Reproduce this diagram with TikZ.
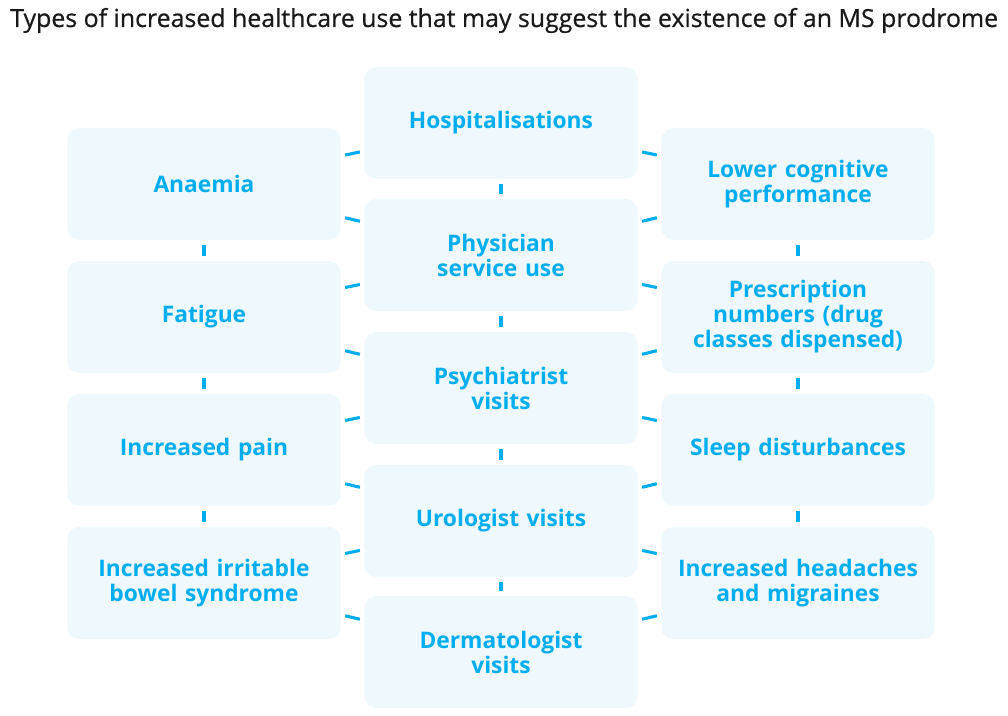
\documentclass[tikz,border=0pt]{standalone}
\usepackage{fontspec}
\setmainfont{Open Sans}
\newfontfamily\titlefont[FakeBold=0.6]{Open Sans}
\usepackage{tikz}
\definecolor{msblue}{HTML}{00AEEF}
\definecolor{msfill}{HTML}{EEF8FD}
\tikzset{
  item/.style={fill=msfill,rounded corners=0.3cm,minimum width=6.8cm,minimum height=2.8cm,
    text width=6.6cm,align=center,text=msblue,font=\fontsize{16.2}{17.8}\selectfont\bfseries},
  link/.style={draw=msblue,line width=2.2pt,shorten >=3pt,shorten <=3pt}
}

\begin{document}
\begin{tikzpicture}[x=0.025cm,y=-0.025cm]
  \useasboundingbox (0,0) rectangle (1008,716);
  \node[anchor=base west,inner sep=0pt,text=black!90,font=\titlefont\fontsize{17.7}{20}\selectfont] (title) at (10,27)
    {Types of increased healthcare use that may suggest the existence of an MS prodrome};

  % middle column
  \node[item] (hosp)  at (501,123) {Hospitalisations};
  \node[item] (phys)  at (501,255) {Physician\\service use};
  \node[item] (psych) at (501,388) {Psychiatrist\\visits};
  \node[item] (uro)   at (501,521) {Urologist visits};
  \node[item] (derm)  at (501,652) {Dermatologist\\visits};

  % left column
  \node[item] (anaemia) at (204,184) {Anaemia};
  \node[item] (fatigue) at (204,317) {Fatigue};
  \node[item] (pain)    at (204,450) {Increased pain};
  \node[item] (ibs)     at (204,583) {Increased irritable\\bowel syndrome};

  % right column
  \node[item] (cogn)  at (798,184) {Lower cognitive\\performance};
  \node[item] (presc) at (798,317) {Prescription\\numbers (drug\\classes dispensed)};
  \node[item] (sleep) at (798,450) {Sleep disturbances};
  \node[item] (head)  at (798,583) {Increased headaches\\and migraines};

  \draw[link] (hosp) -- (phys);
  \draw[link] (phys) -- (psych);
  \draw[link] (psych) -- (uro);
  \draw[link] (uro) -- (derm);
  \draw[link] (anaemia) -- (fatigue);
  \draw[link] (fatigue) -- (pain);
  \draw[link] (pain) -- (ibs);
  \draw[link] (cogn) -- (presc);
  \draw[link] (presc) -- (sleep);
  \draw[link] (sleep) -- (head);

  \draw[link] (anaemia) -- (hosp);  \draw[link] (anaemia) -- (phys);
  \draw[link] (fatigue) -- (phys);  \draw[link] (fatigue) -- (psych);
  \draw[link] (pain) -- (psych);    \draw[link] (pain) -- (uro);
  \draw[link] (ibs) -- (uro);       \draw[link] (ibs) -- (derm);
  \draw[link] (cogn) -- (hosp);     \draw[link] (cogn) -- (phys);
  \draw[link] (presc) -- (phys);    \draw[link] (presc) -- (psych);
  \draw[link] (sleep) -- (psych);   \draw[link] (sleep) -- (uro);
  \draw[link] (head) -- (uro);      \draw[link] (head) -- (derm);
\end{tikzpicture}
\end{document}
